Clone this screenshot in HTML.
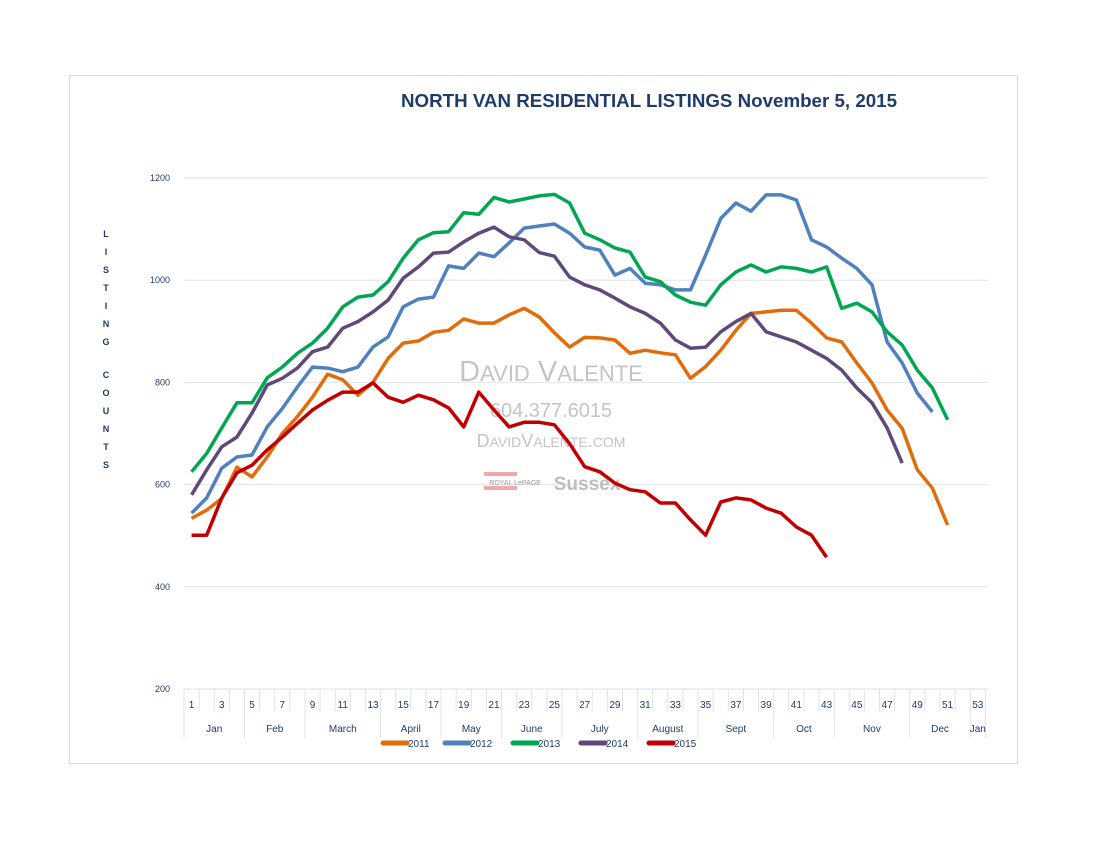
<!DOCTYPE html>
<html><head><meta charset="utf-8"><style>
body{margin:0;background:#fff;width:1100px;height:850px;overflow:hidden;font-family:"Liberation Sans",sans-serif}
svg text{font-family:"Liberation Sans",sans-serif}
</style></head><body>
<svg id="chart" width="1100" height="850" viewBox="0 0 1100 850" xmlns="http://www.w3.org/2000/svg">
<rect x="69.5" y="75.5" width="948" height="688" fill="#fff" stroke="#d9d9d9"/>
<text x="401" y="107" textLength="496" lengthAdjust="spacingAndGlyphs" font-size="18" font-weight="bold" fill="#1f3b6b">NORTH VAN RESIDENTIAL LISTINGS November 5, 2015</text>
<g id="grid"></g>
<g id="yticks"></g>
<g id="ytitle"></g>
<g id="xaxis"></g>
<g fill="#bdbdbd" text-anchor="middle" font-family="Liberation Serif">
<text x="551" y="381" font-size="29" font-family="Liberation Serif" fill="#c4c4c4">D<tspan font-size="22">AVID</tspan> V<tspan font-size="22">ALENTE</tspan></text>
<text x="551" y="417" font-size="20" font-family="Liberation Serif" fill="#c4c4c4">604.377.6015</text>
<text x="551" y="447" font-size="18" font-family="Liberation Serif" fill="#c4c4c4">D<tspan font-size="14">AVID</tspan>V<tspan font-size="14">ALENTE</tspan>.<tspan font-size="14">COM</tspan></text>
<rect x="484" y="472" width="33" height="4" fill="#f0a8a8"/>
<rect x="484" y="486" width="33" height="4" fill="#f0a8a8"/>
<text x="515" y="485" font-size="7" fill="#999">ROYAL LePAGE</text>
<text x="587" y="490" font-size="19" font-weight="bold" fill="#bdbdbd">Sussex</text>
</g>
<g id="series"></g>
<g id="legend"></g>
</svg>
<script>
const weeks = Array.from({length:53},(_,i)=>i+1);
const yTicks = [200,400,600,800,1000,1200];
const seriesNames = ["2011","2012","2013","2014","2015"];
const seriesColors = ["#e36c0a","#4f81bd","#00a651","#5f497a","#c00000"];
const s2011 = [534,550,573,634,615,654,700,733,771,816,805,775,800,847,877,881,898,902,924,916,916,932,945,928,897,869,888,887,883,857,863,858,854,808,831,863,902,935,938,941,941,916,887,879,838,799,746,710,629,593,521];
const s2012 = [544,574,632,654,658,713,749,791,830,828,821,830,869,889,948,963,967,1028,1023,1053,1046,1073,1102,1106,1110,1092,1065,1059,1010,1023,994,991,981,981,1049,1121,1151,1135,1167,1167,1157,1079,1065,1043,1023,991,879,838,779,742];
const s2013 = [625,661,711,760,760,809,830,857,877,906,948,967,971,997,1043,1079,1093,1095,1132,1129,1162,1153,1159,1165,1168,1151,1092,1079,1063,1055,1006,997,971,957,951,991,1016,1030,1016,1026,1023,1016,1026,945,955,938,899,873,824,789,727];
const s2014 = [580,629,674,693,740,795,808,828,860,869,906,919,938,961,1004,1026,1053,1055,1075,1092,1104,1085,1079,1054,1047,1006,991,981,965,948,935,916,883,867,869,899,919,935,899,889,879,863,847,824,789,760,711,642];
const s2015 = [501,501,574,623,638,668,693,720,746,765,781,781,799,771,761,775,766,750,713,781,746,713,722,722,717,680,635,625,603,590,586,564,564,531,501,566,574,570,554,544,517,501,458];
const monthNames = ["Jan","Feb","March","April","May","June","July","August","Sept","Oct","Nov","Dec","Jan"];
const monthBounds = [0,4,8,13,17,21,25,30,34,39,43,48,52,53];

const NS="http://www.w3.org/2000/svg";
const L=184, W=15.12, T=178, B=689, R=988;
const x = w => L + (w-0.5)*W;
const y = v => B - (v-200)*(B-T)/1000;
function mk(tag, attrs, parent){const e=document.createElementNS(NS,tag);for(const k in attrs)e.setAttribute(k,attrs[k]);parent.appendChild(e);return e;}

const grid=document.getElementById('grid');
yTicks.forEach(v=>{ if(v>200){const g=mk('line',{x1:L,x2:R,y1:y(v),y2:y(v),stroke:'#dde3ee','stroke-width':1},grid);

}});
const yt=document.getElementById('yticks');
yTicks.forEach(v=>{const t=mk('text',{x:170,y:y(v)+3,'text-anchor':'end','font-size':9,fill:'#1f3b6b'},yt);t.textContent=v;

});
const ytt=document.getElementById('ytitle');
"LISTING".split('').forEach((c,i)=>{const t=mk('text',{x:106,y:237+i*18,'text-anchor':'middle','font-size':9,'font-weight':'bold',fill:'#1f3b6b'},ytt);t.textContent=c;});
"COUNTS".split('').forEach((c,i)=>{const t=mk('text',{x:106,y:378+i*18,'text-anchor':'middle','font-size':9,'font-weight':'bold',fill:'#1f3b6b'},ytt);t.textContent=c;});

const xa=document.getElementById('xaxis');
mk('line',{x1:L,x2:R,y1:B,y2:B,stroke:'#d9dfe8'},xa);
for(let i=0;i<=53;i++){ if(!monthBounds.includes(i)) mk('line',{x1:L+i*W,x2:L+i*W,y1:B,y2:711,stroke:'#dde3ee'},xa);}
monthBounds.forEach(b=>mk('line',{x1:L+b*W,x2:L+b*W,y1:B,y2:738,stroke:'#dde3ee'},xa));
weeks.forEach(w=>{ if(w%2===1){const t=mk('text',{x:x(w),y:708,'text-anchor':'middle','font-size':10,fill:'#1f3b6b'},xa);t.textContent=w;

}});
monthNames.forEach((m,i)=>{const cx=L+(monthBounds[i]+monthBounds[i+1])/2*W;const t=mk('text',{x:cx,y:732,'text-anchor':'middle','font-size':10,fill:'#1f3b6b'},xa);t.textContent=m;

});

const sg=document.getElementById('series');
[s2011,s2012,s2013,s2014,s2015].forEach((s,i)=>{
 const d=s.map((v,j)=>(j?'L':'M')+x(j+1).toFixed(1)+' '+y(v).toFixed(1)).join(' ');
 const p=mk('path',{d:d,fill:'none',stroke:seriesColors[i],'stroke-width':3.5,'stroke-linejoin':'round'},sg);
 
 
});
const lg=document.getElementById('legend');
const lx=[381,443,511,579,647];
seriesNames.forEach((n,i)=>{
 const g=mk('g',{},lg);
 
 
 mk('line',{x1:lx[i]+2,x2:lx[i]+26,y1:743,y2:743,stroke:seriesColors[i],'stroke-width':5,'stroke-linecap':'round'},g);
 const t=mk('text',{x:lx[i]+27,y:747,'font-size':10,fill:'#1f3b6b'},g);t.textContent=n;
});
</script>
</body></html>
